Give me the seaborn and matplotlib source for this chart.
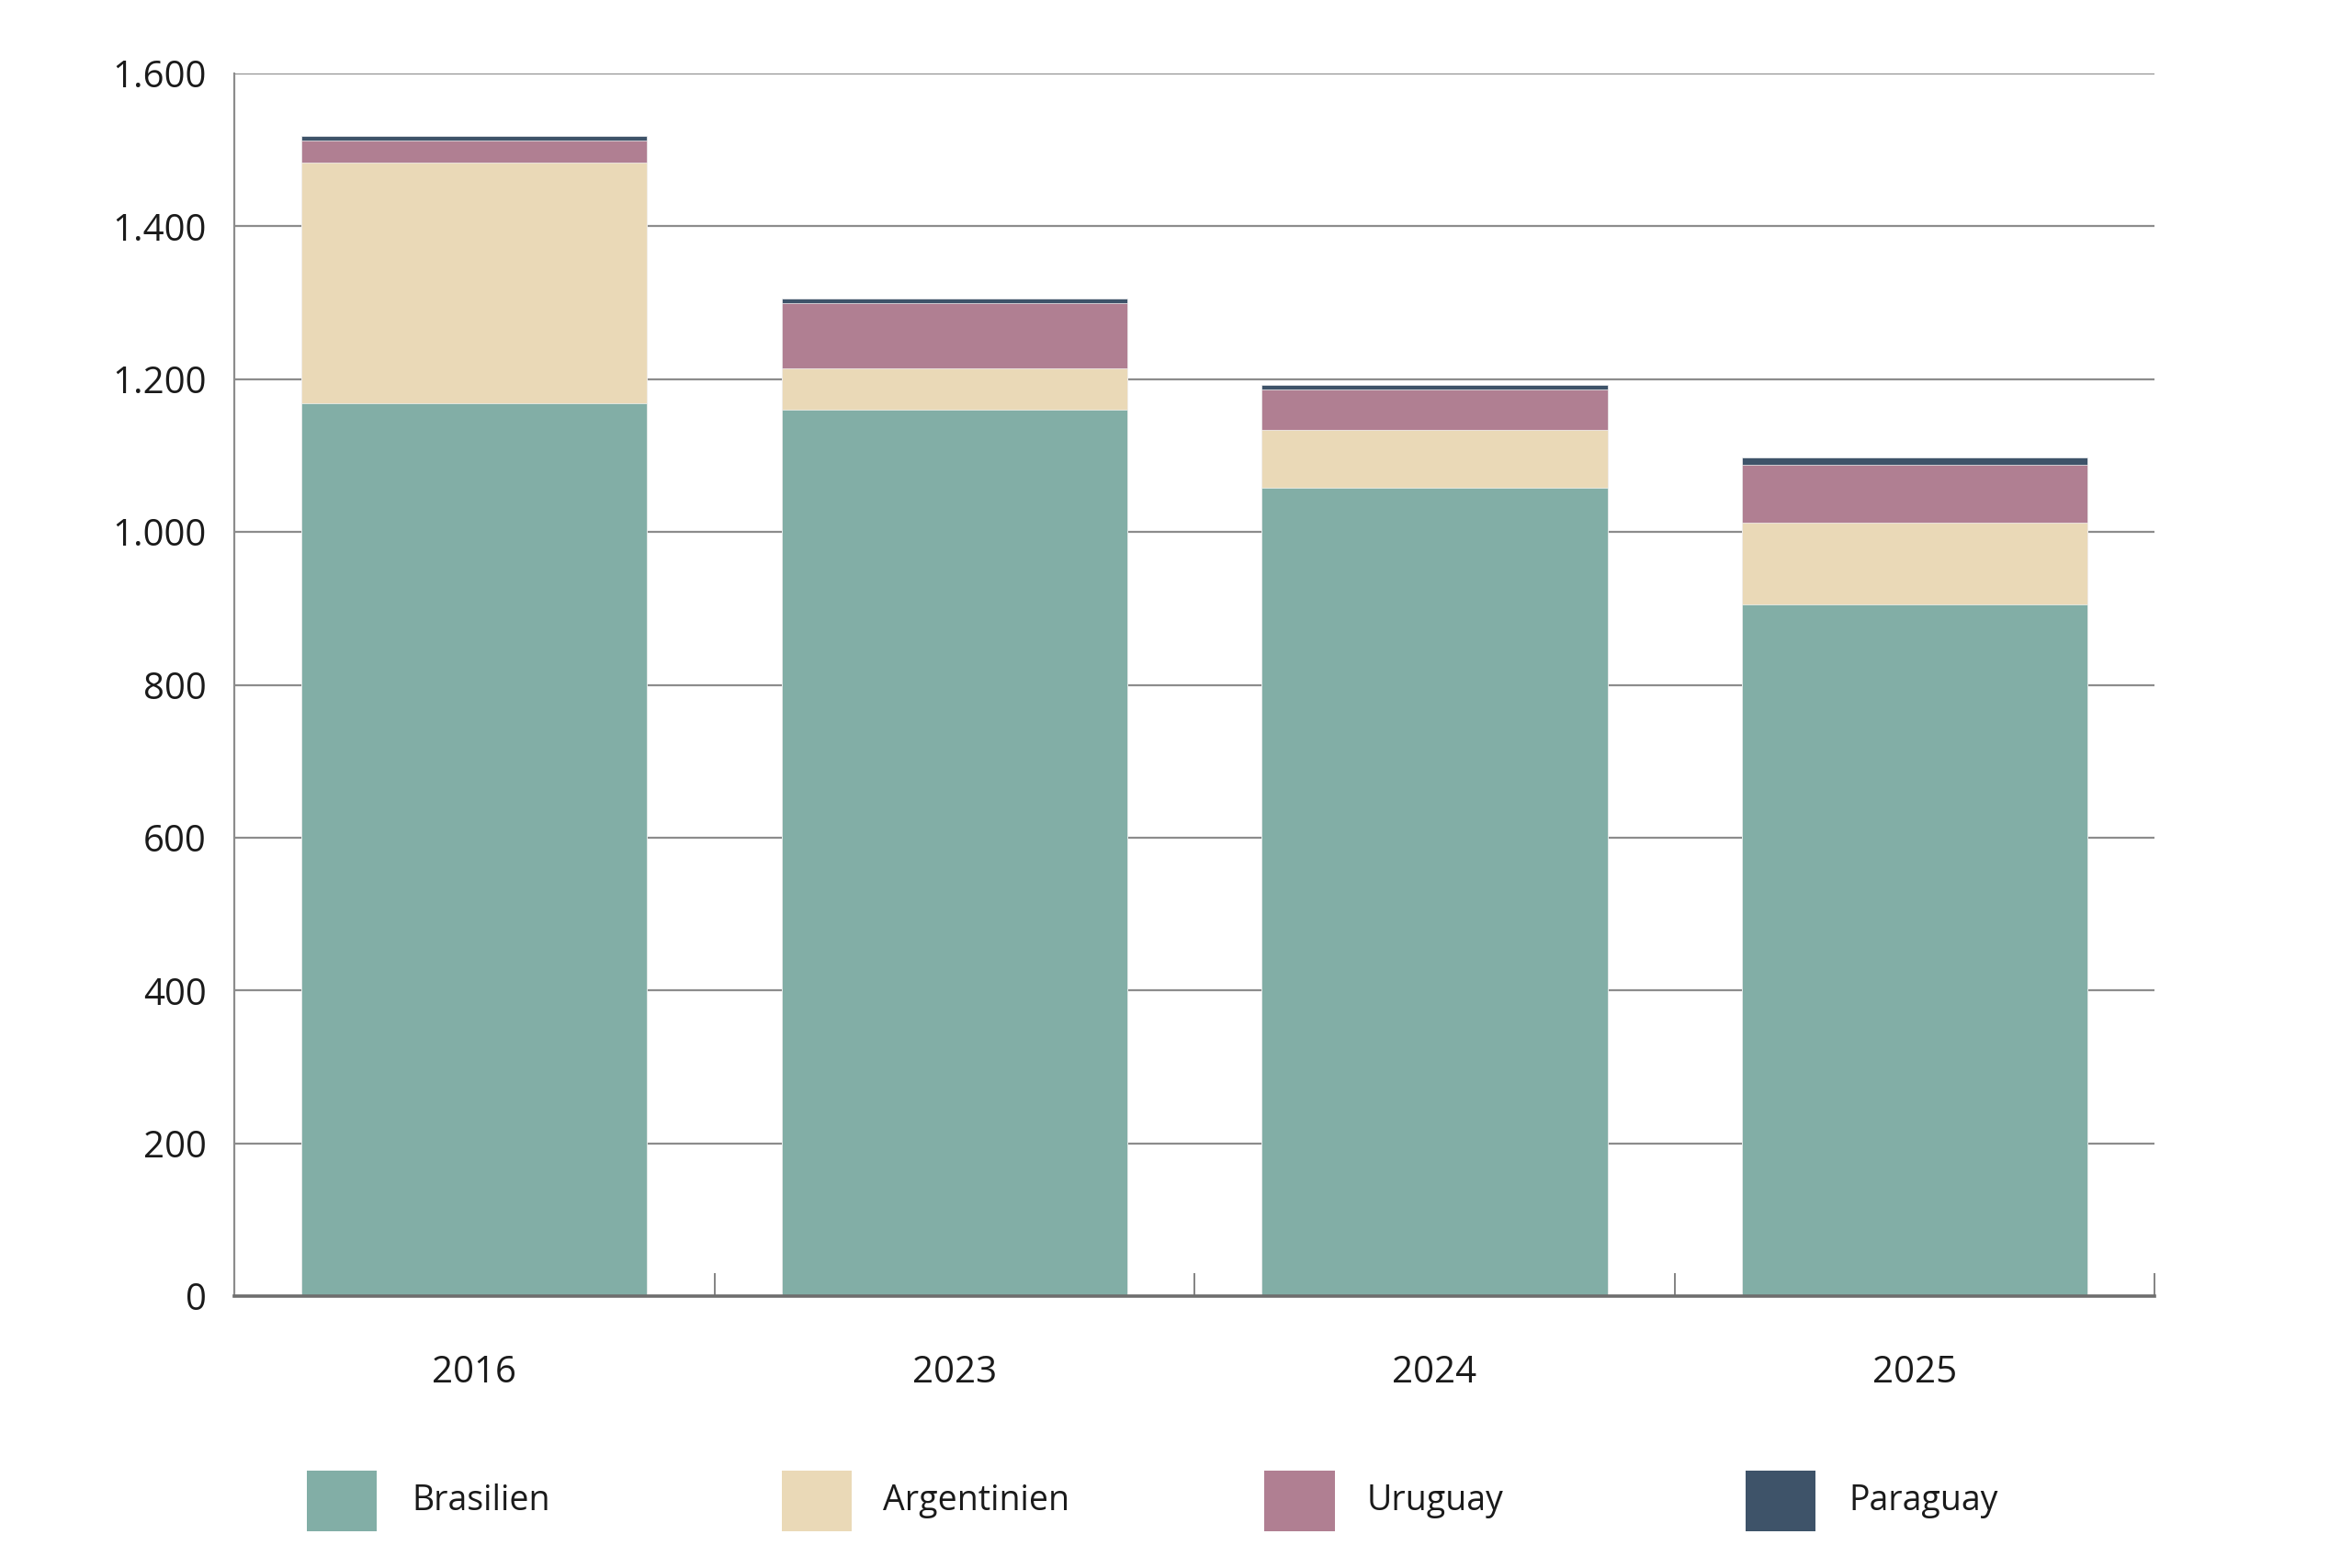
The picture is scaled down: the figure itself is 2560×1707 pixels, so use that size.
import matplotlib
matplotlib.use("Agg")
import matplotlib.pyplot as plt
import matplotlib.ticker as mticker
from matplotlib.patches import Rectangle
import numpy as np
import pandas as pd
import seaborn as sns

years = ["2016", "2023", "2024", "2025"]
countries = ["Brasilien", "Argentinien", "Uruguay", "Paraguay"]
brasilien = [1169, 1160, 1058, 905]
argentinien = [315, 54, 76, 107]
uruguay = [28, 85, 53, 76]
paraguay = [6, 6, 6, 10]
colors = ["#82AEA6", "#EAD9B7", "#B07F92", "#3E5369"]
yticks = [0, 200, 400, 600, 800, 1000, 1200, 1400, 1600]

sns.set_theme(style="white")
plt.rcParams["font.family"] = ["Open Sans", "DejaVu Sans"]
txt_color = "#1a1a1a"

fig = plt.figure(figsize=(25.6, 17.07), dpi=100)
ax = fig.add_axes([0.0996, 0.1734, 0.8166, 0.7797])

series = [brasilien, argentinien, uruguay, paraguay]
cum = np.cumsum(np.array(series), axis=0)
# draw from top of stack down so lower segments overlay
for i in range(len(countries) - 1, -1, -1):
    df = pd.DataFrame({"year": years, "value": cum[i]})
    sns.barplot(data=df, x="year", y="value", order=years, color=colors[i],
                width=0.72, saturation=1, edgecolor="#f4f4f4", linewidth=0.5,
                ax=ax)

ax.set_xlim(-0.5, 3.5)
ax.set_ylim(0, 1600)
ax.set_yticks(yticks)
ax.yaxis.set_major_formatter(mticker.FuncFormatter(
    lambda v, p: f"{int(v):,}".replace(",", ".")))
ax.set_xlabel("")
ax.set_ylabel("")
ax.set_axisbelow(True)
ax.yaxis.grid(True, color="#8c8c8c", linewidth=1.6)
ax.xaxis.grid(False)

for s in ["top", "right"]:
    ax.spines[s].set_visible(False)
ax.spines["left"].set_color("#8c8c8c")
ax.spines["left"].set_linewidth(1.6)
ax.spines["bottom"].set_color("#6e6e6e")
ax.spines["bottom"].set_linewidth(2.6)
ax.spines["bottom"].set_zorder(5)

ax.tick_params(axis="y", length=0, pad=22, labelsize=29, labelcolor=txt_color)
ax.tick_params(axis="x", which="major", length=0, pad=46, labelsize=29,
               labelcolor=txt_color)
ax.set_xticks([0.5, 1.5, 2.5, 3.5], minor=True)
ax.tick_params(axis="x", which="minor", direction="in", length=18, width=1.2,
               color="#6e6e6e", bottom=True)

# legend
patch_x = [0.1303, 0.3323, 0.5375, 0.7420]
text_x = [0.1753, 0.3752, 0.5811, 0.7859]
ly = 0.0430
pw, ph = 0.030, 0.0387
for i, name in enumerate(countries):
    fig.patches.append(Rectangle((patch_x[i], ly - ph / 2), pw, ph,
                                 transform=fig.transFigure, facecolor=colors[i],
                                 edgecolor="none"))
    fig.text(text_x[i], ly, name, fontsize=27, color=txt_color,
             ha="left", va="center")

fig.savefig("out.png", dpi=100, facecolor="white")
